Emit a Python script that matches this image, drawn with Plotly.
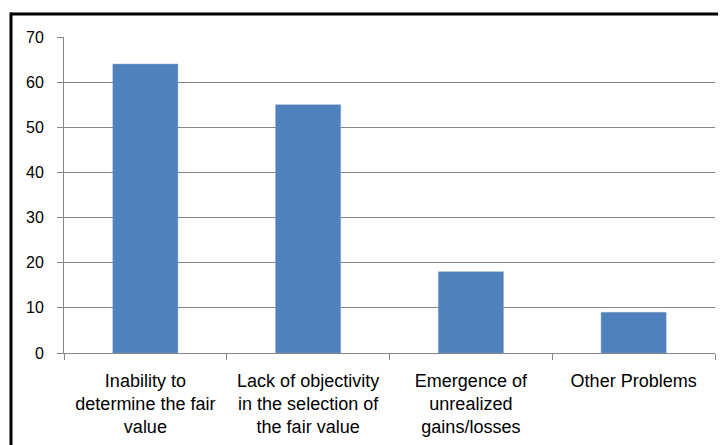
import plotly.graph_objects as go

categories = [
    "Inability to<br>determine the fair<br>value",
    "Lack of objectivity<br>in the selection of<br>the fair value",
    "Emergence of<br>unrealized<br>gains/losses",
    "Other Problems",
]
values = [64, 55, 18, 9]
y_ticks = [0, 10, 20, 30, 40, 50, 60, 70]

fig = go.Figure(
    go.Bar(
        x=categories,
        y=values,
        marker=dict(color="#4F81BD", line=dict(color="#7FA1CC", width=0.5)),
    )
)

# page body has an 8px margin, so figure coordinates = screen - 8
OFF = 8
W, H = 726, 445
L, R, T, B = 64 - OFF, W - (715 - OFF), 37 - OFF, H - (353 - OFF)
pw, ph = W - L - R, H - T - B

def px(x):
    return (x - OFF - L) / pw

def py(y):
    return (H - B - (y - OFF)) / ph

fig.update_layout(
    width=W,
    height=H,
    margin=dict(l=L, r=R, t=T, b=B, autoexpand=False),
    paper_bgcolor="white",
    plot_bgcolor="white",
    bargap=0.6,
    showlegend=False,
    font=dict(family="Liberation Sans", size=17, color="black"),
    xaxis=dict(
        tickson="boundaries",
        ticks="outside",
        ticklen=6,
        tickcolor="#868686",
        showline=True,
        linecolor="#868686",
        linewidth=1,
        showgrid=False,
        tickangle=0,
        ticklabelstandoff=11,
        tickfont=dict(size=18),
    ),
    yaxis=dict(
        range=[0, 70],
        tickvals=y_ticks,
        ticks="outside",
        ticklen=6,
        tickcolor="#868686",
        showline=True,
        linecolor="#868686",
        linewidth=1,
        showgrid=True,
        gridcolor="#868686",
        gridwidth=1,
        zeroline=False,
        ticklabelstandoff=10,
        tickfont=dict(size=16),
    ),
    shapes=[
        dict(type="line", xref="paper", yref="paper",
             x0=px(10), x1=px(740), y0=py(14), y1=py(14),
             line=dict(color="black", width=3)),
        dict(type="line", xref="paper", yref="paper",
             x0=px(11), x1=px(11), y0=py(12.5), y1=py(460),
             line=dict(color="black", width=3)),
    ],
)

fig.write_html("out.html")
